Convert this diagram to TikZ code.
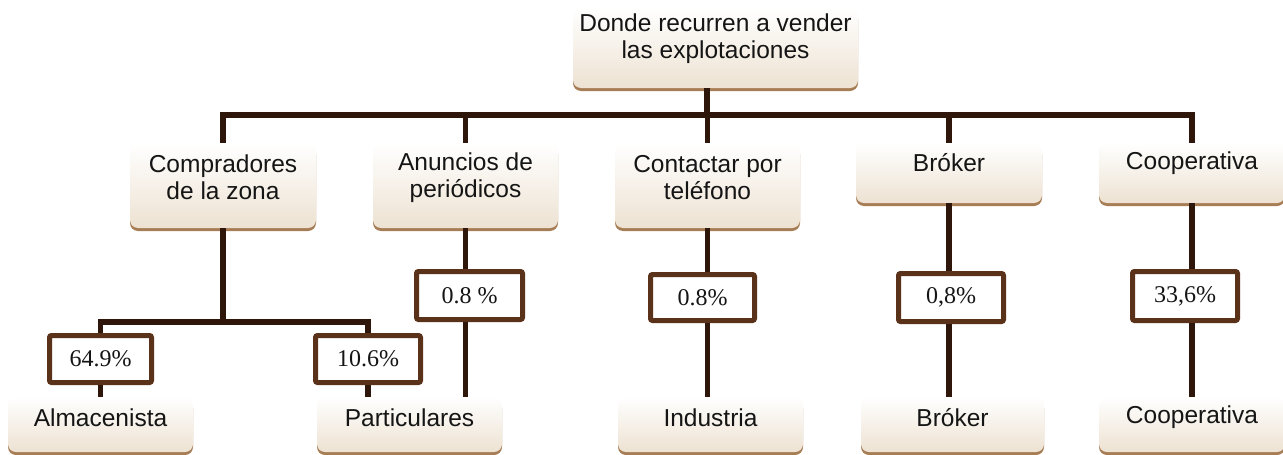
\documentclass[tikz,border=0pt]{standalone}
\usepackage{fontspec}
\setmainfont{Liberation Serif}
\setsansfont{Liberation Sans}
\usetikzlibrary{calc,shadows}
\definecolor{linec}{HTML}{2E170A}
\definecolor{pboxc}{HTML}{5A3219}
\definecolor{shadc}{HTML}{A67D55}
\definecolor{creamb}{HTML}{EDE2D2}
\definecolor{txtc}{HTML}{151515}
\begin{document}
\begin{tikzpicture}[x=1pt,y=-1pt,
  cbox/.style={rounded corners=8pt, top color=white, bottom color=creamb,
    draw=none, inner sep=0pt,
    drop shadow={shadow xshift=0pt, shadow yshift=-3pt, fill=shadc, opacity=1}},
  ctext/.style={font=\sffamily\fontsize{24.5}{27}\selectfont, text=txtc, align=center, inner sep=0pt},
  pbox/.style={draw=pboxc, line width=5pt, rounded corners=2pt, fill=white, inner sep=0pt,
    font=\fontsize{24}{26}\selectfont, text=txtc},
  conn/.style={draw=linec, line width=5.5pt}]
\useasboundingbox (0,0) rectangle (1283,455);

% top
\node[cbox, minimum width=285pt, minimum height=80pt] (top) at (715.5,48) {};
\node[ctext] (topt) at ([yshift=9pt]top.center) {Donde recurren a vender\\las explotaciones};

% level 2
\node[cbox, minimum width=186pt, minimum height=85pt] (comp) at (223,185.5) {};
\node[ctext] (compt) at ([yshift=8pt]comp.center) {Compradores\\de la zona};
\node[cbox, minimum width=185pt, minimum height=85pt] (anun) at (465.5,185.5) {};
\node[ctext] (anunt) at ([yshift=8pt]anun.center) {Anuncios de\\periódicos};
\node[cbox, minimum width=185pt, minimum height=85pt] (cont) at (707.5,185.5) {};
\node[ctext] (contt) at ([yshift=8pt]cont.center) {Contactar por\\teléfono};
\node[cbox, minimum width=186pt, minimum height=60pt] (brok) at (949,173) {};
\node[ctext] (brokt) at ([yshift=10pt]brok.center) {Bróker};
\node[cbox, minimum width=186pt, minimum height=60pt] (coop) at (1192,173) {};
\node[ctext] (coopt) at ([yshift=10pt]coop.center) {Cooperativa};

% bottom
\node[cbox, minimum width=185pt, minimum height=55pt] (alm) at (100.5,424.5) {};
\node[ctext] (almt) at ([yshift=7pt]alm.center) {Almacenista};
\node[cbox, minimum width=185pt, minimum height=55pt] (part) at (409.5,424.5) {};
\node[ctext] (partt) at ([yshift=7pt]part.center) {Particulares};
\node[cbox, minimum width=185pt, minimum height=55pt] (ind) at (710.5,424.5) {};
\node[ctext] (indt) at ([yshift=7pt]ind.center) {Industria};
\node[cbox, minimum width=183pt, minimum height=55pt] (brokb) at (952.5,424.5) {};
\node[ctext] (brokbt) at ([yshift=7pt]brokb.center) {Bróker};
\node[cbox, minimum width=186pt, minimum height=55pt] (coopb) at (1192,424.5) {};
\node[ctext] (coopbt) at ([yshift=7pt]coopb.center) {Cooperativa};

% connectors
\coordinate (bus) at (707,115);
\coordinate (sub) at (223,322);
\draw[conn] (top.south -| bus) -- (bus);
\draw[conn] (comp.north) -- (comp.north |- bus) -- (coop.north |- bus) -- (coop.north);
\draw[conn] (anun.north) -- (anun.north |- bus);
\draw[conn] (cont.north) -- (cont.north |- bus);
\draw[conn] (brok.north) -- (brok.north |- bus);

\draw[conn] (comp.south) -- (sub);

% percentage boxes
\node[pbox, minimum width=102pt, minimum height=47pt] (p649) at (100.5,359) {64.9\%};
\node[pbox, minimum width=105pt, minimum height=47pt] (p106) at (368,359) {10.6\%};
\node[pbox, minimum width=106pt, minimum height=48pt] (p08a) at (469.5,295.5) {0.8 \%};
\node[pbox, minimum width=104pt, minimum height=46pt] (p08b) at (702.5,297.5) {0.8\%};
\node[pbox, minimum width=105pt, minimum height=48pt] (p08c) at (951,297.5) {0,8\%};
\node[pbox, minimum width=105pt, minimum height=49pt] (p336) at (1185,296) {33,6\%};

\draw[conn] (p649.north) -- (p649.north |- sub) -- (p106.north |- sub) -- (p106.north);
\draw[conn] (p649.south) -- (p649.south |- alm.north);
\draw[conn] (p106.south) -- (p106.south |- part.north);

\draw[conn] (anun.south) -- (anun.south |- p08a.north);
\draw[conn] (anun.south |- p08a.south) -- (anun.south |- part.north);
\draw[conn] (cont.south) -- (cont.south |- p08b.north);
\draw[conn] (cont.south |- p08b.south) -- (cont.south |- ind.north);
\draw[conn] (brok.south) -- (brok.south |- p08c.north);
\draw[conn] (brok.south |- p08c.south) -- (brok.south |- brokb.north);
\draw[conn] (coop.south) -- (coop.south |- p336.north);
\draw[conn] (coop.south |- p336.south) -- (coop.south |- coopb.north);
\end{tikzpicture}
\end{document}
